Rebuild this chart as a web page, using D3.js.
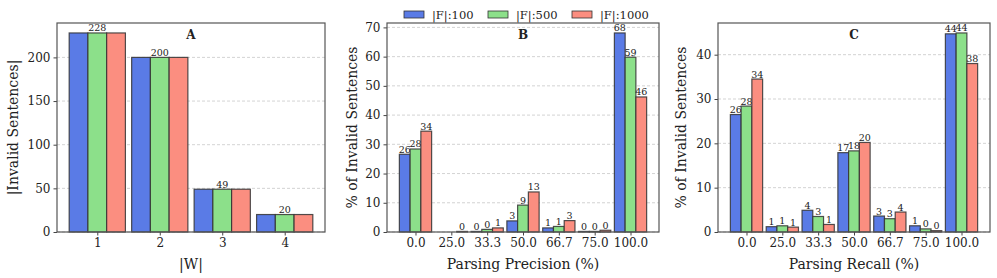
<!DOCTYPE html>
<html>
<head>
<meta charset="utf-8">
<script src="https://cdn.jsdelivr.net/npm/d3@7"></script>
<style>
  body { margin: 0; background: #fff; }
  svg text { font-family: "DejaVu Serif", serif; fill: #222; }
</style>
</head>
<body>
<div id="chart"></div>
<script>
const series = ["|F|:100", "|F|:500", "|F|:1000"];
const colors = ["#5a7be6", "#8ce08a", "#fb8e80"];

const wCats = ["1", "2", "3", "4"];
const wValues = [
  [228, 200, 49, 20],
  [228, 200, 49, 20],
  [228, 200, 49, 20]
];

const pctCats = ["0.0", "25.0", "33.3", "50.0", "66.7", "75.0", "100.0"];
const precisionValues = [
  [26.6, 0, 0.2, 3.8, 1.4, 0.2, 68.1],
  [28.4, 0, 0.9, 9.2, 1.9, 0.2, 59.8],
  [34.5, 0.2, 1.4, 13.7, 3.9, 0.6, 46.2]
];
const recallValues = [
  [26.5, 1.2, 4.9, 17.9, 3.6, 1.4, 44.7],
  [28.4, 1.4, 3.5, 18.3, 3.0, 0.7, 44.9],
  [34.5, 1.1, 1.7, 20.2, 4.5, 0.3, 38.0]
];

const W = 997, H = 278;
const svg = d3.select("#chart").append("svg").attr("width", W).attr("height", H);

function drawPanel(opt) {
  const { left, right, top, bottom, cats, values, yTicks, title, xLabel, yLabel, yLabelX, labelMode } = opt;
  const n = cats.length;
  const barW = 0.3;
  const maxV = d3.max(values.flat());
  const x = d3.scaleLinear()
    .domain([-0.45 - 0.05 * (n - 0.1), n - 1 + 0.45 + 0.05 * (n - 0.1)])
    .range([left, right]);
  const y = d3.scaleLinear().domain([0, maxV * 1.05]).range([bottom, top]);
  const g = svg.append("g");

  // grid
  g.append("g").selectAll("line").data(yTicks).join("line")
    .attr("x1", left).attr("x2", right)
    .attr("y1", d => y(d)).attr("y2", d => y(d))
    .attr("stroke", "#c8c8c8").attr("stroke-width", 0.8)
    .attr("stroke-dasharray", "3,2");

  // bars
  values.forEach((vals, s) => {
    const off = (s - 1) * barW;
    const pts = vals.map((v, i) => ({ v, i }));
    g.append("g").selectAll("rect").data(pts).join("rect")
      .attr("x", d => x(d.i + off - barW / 2))
      .attr("y", d => y(d.v))
      .attr("width", x(barW) - x(0))
      .attr("height", d => y(0) - y(d.v))
      .attr("fill", colors[s])
      .attr("stroke", "#333")
      .attr("stroke-opacity", d => d.v > 0 ? 0.85 : 0)
      .attr("stroke-width", 1.2);

    if (labelMode === "all") {
      g.append("g").selectAll("text").data(pts.filter(d => d.v > 0)).join("text")
        .attr("x", d => x(d.i + off))
        .attr("y", d => y(d.v) - 1.5)
        .attr("text-anchor", "middle")
        .attr("font-size", 9.5)
        .text(d => Math.floor(d.v));
    }
  });

  if (labelMode === "group") {
    g.append("g").selectAll("text").data(values[1]).join("text")
      .attr("x", (d, i) => x(i))
      .attr("y", d => y(d) - 1.5)
      .attr("text-anchor", "middle")
      .attr("font-size", 9.5)
      .text(d => d);
  }

  // axes
  const xAxis = d3.axisBottom(x).tickValues(d3.range(n)).tickFormat(i => cats[i]).tickSize(3.5).tickPadding(3);
  const yAxis = d3.axisLeft(y).tickValues(yTicks).tickSize(3.5).tickPadding(3);
  const ax = g.append("g").attr("transform", `translate(0,${bottom})`).call(xAxis);
  const ay = g.append("g").attr("transform", `translate(${left},0)`).call(yAxis);
  [ax, ay].forEach(a => {
    a.select(".domain").remove();
    a.selectAll("line").attr("stroke", "#444");
    a.selectAll("text").attr("font-size", 12).attr("fill", "#222").attr("font-family", "DejaVu Serif");
  });

  g.append("rect")
    .attr("x", left).attr("y", top)
    .attr("width", right - left).attr("height", bottom - top)
    .attr("fill", "none").attr("stroke", "#555").attr("stroke-width", 1.2);

  g.append("text")
    .attr("x", (left + right) / 2).attr("y", 39)
    .attr("text-anchor", "middle")
    .attr("font-size", 12).attr("font-weight", "bold")
    .text(title);

  g.append("text")
    .attr("x", (left + right) / 2).attr("y", 269)
    .attr("text-anchor", "middle")
    .attr("font-size", 14)
    .text(xLabel);

  g.append("text")
    .attr("transform", `translate(${yLabelX},${(top + bottom) / 2}) rotate(-90)`)
    .attr("text-anchor", "middle")
    .attr("dominant-baseline", "central")
    .attr("font-size", 14)
    .text(yLabel);
}

drawPanel({
  left: 57, right: 325, top: 23, bottom: 232,
  cats: wCats, values: wValues, yTicks: [0, 50, 100, 150, 200],
  title: "A", xLabel: "|W|", yLabel: "|Invalid Sentences|", yLabelX: 13, labelMode: "group"
});
drawPanel({
  left: 387, right: 659, top: 23, bottom: 232,
  cats: pctCats, values: precisionValues, yTicks: [0, 10, 20, 30, 40, 50, 60, 70],
  title: "B", xLabel: "Parsing Precision (%)", yLabel: "% of Invalid Sentences", yLabelX: 352, labelMode: "all"
});
drawPanel({
  left: 718, right: 990, top: 23, bottom: 232,
  cats: pctCats, values: recallValues, yTicks: [0, 10, 20, 30, 40],
  title: "C", xLabel: "Parsing Recall (%)", yLabel: "% of Invalid Sentences", yLabelX: 681, labelMode: "all"
});

// legend
const legend = svg.append("g").attr("transform", "translate(404,11)");
const legX = [0, 84, 168];
series.forEach((s, i) => {
  const lg = legend.append("g").attr("transform", `translate(${legX[i]},0)`);
  lg.append("rect").attr("width", 20).attr("height", 7)
    .attr("fill", colors[i]).attr("stroke", "#333").attr("stroke-width", 0.8);
  lg.append("text").attr("x", 28).attr("y", 8).attr("font-size", 11.5).text(s);
});
</script>
</body>
</html>
